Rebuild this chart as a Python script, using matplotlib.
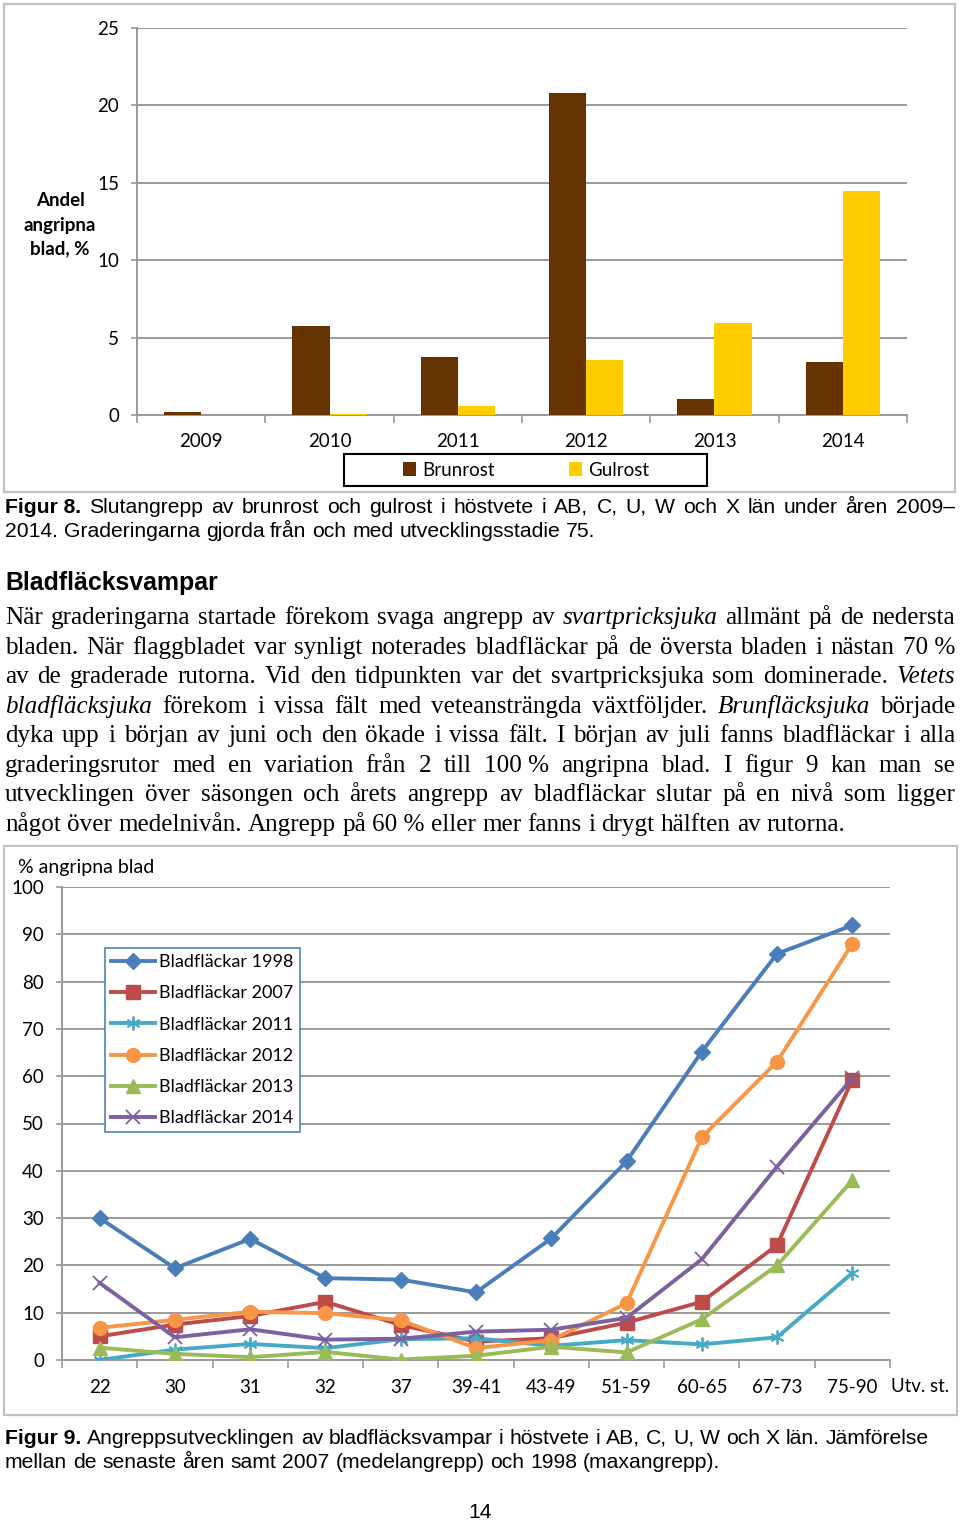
import matplotlib
matplotlib.use("Agg")
import matplotlib.pyplot as plt
from matplotlib.patches import Rectangle
import numpy as np

# ---------------- data ----------------
years = ['2009', '2010', '2011', '2012', '2013', '2014']
brunrost = [0.2, 5.75, 3.75, 20.8, 1.05, 3.45]
gulrost = [0.0, 0.05, 0.6, 3.55, 5.95, 14.45]

stages = ['22', '30', '31', '32', '37', '39-41', '43-49', '51-59', '60-65', '67-73', '75-90']
s1998 = [30.0, 19.4, 25.6, 17.3, 17.0, 14.3, 25.7, 42.0, 65.2, 85.9, 91.9]
s2007 = [5.0, 7.5, 9.3, 12.3, 7.4, 3.9, 4.6, 7.9, 12.3, 24.3, 59.3]
s2011 = [0.0, 2.2, 3.4, 2.5, 4.4, 4.6, 3.0, 4.2, 3.3, 4.8, 18.4]
s2012 = [6.8, 8.5, 10.2, 9.9, 8.4, 2.5, 4.2, 12.0, 47.1, 63.1, 88.0]
s2013 = [2.6, 1.3, 0.6, 1.7, 0.1, 0.9, 2.8, 1.6, 8.6, 20.0, 38.0]
s2014 = [16.3, 4.8, 6.5, 4.3, 4.5, 6.0, 6.4, 8.9, 21.3, 40.9, 59.6]
series_labels = ['Bladfläckar 1998', 'Bladfläckar 2007', 'Bladfläckar 2011',
                 'Bladfläckar 2012', 'Bladfläckar 2013', 'Bladfläckar 2014']

W, H = 960, 1521
fig = plt.figure(figsize=(W / 100, H / 100), dpi=100)
fig.patch.set_facecolor('white')

def fx(x):
    return x / W

def fy(y):
    return 1 - y / H

def ax_rect(l, t, r, b):
    return [fx(l), fy(b), (r - l) / W, (b - t) / H]

GRID = '#9a9a9a'
CHART_FONT = 'Lato'

# ---------------- outer boxes ----------------
for (l, t, r, b) in [(4, 4, 955, 492), (4, 846, 957, 1415)]:
    fig.add_artist(Rectangle((fx(l), fy(b)), (r - l) / W, (b - t) / H,
                             transform=fig.transFigure, fill=False,
                             edgecolor='#c0c0c0', lw=1.6))

# ---------------- top chart ----------------
ax1 = fig.add_axes(ax_rect(137, 28, 907, 415))
x = np.arange(len(years))
bw = 0.29
ax1.bar(x - bw / 2, brunrost, width=bw, color='#663300', label='Brunrost', zorder=3)
ax1.bar(x + bw / 2, gulrost, width=bw, color='#FFCC00', label='Gulrost', zorder=3)
ax1.set_xlim(-0.5, len(years) - 0.5)
ax1.set_ylim(0, 25)
ax1.set_yticks(range(0, 26, 5))
ax1.set_xticks(x)
ax1.set_xticklabels(years)
ax1.set_xticks(np.arange(-0.5, len(years), 1.0), minor=True)
ax1.grid(axis='y', color=GRID, lw=1.4, zorder=0)
for s in ['top', 'right']:
    ax1.spines[s].set_visible(False)
for s in ['left', 'bottom']:
    ax1.spines[s].set_color(GRID)
    ax1.spines[s].set_linewidth(1.4)
ax1.tick_params(axis='x', which='major', length=0, pad=13, labelsize=13.5)
ax1.tick_params(axis='x', which='minor', length=6, color=GRID, width=1.2)
ax1.tick_params(axis='y', length=4, color=GRID, width=1.2, pad=9, labelsize=13.5)
for lab in ax1.get_xticklabels() + ax1.get_yticklabels():
    lab.set_fontfamily(CHART_FONT)

fig.text(fx(60), fy(225), 'Andel\nangripna\nblad, %', ha='center', va='center',
         fontsize=13.5, fontweight='bold', family=CHART_FONT, linespacing=1.5)

# top legend with black frame
fig.add_artist(Rectangle((fx(344), fy(486)), (707 - 344) / W, (486 - 454) / H,
                         transform=fig.transFigure, fill=False, edgecolor='black', lw=1.5))
h1, l1 = ax1.get_legend_handles_labels()
leg1 = fig.legend(h1, l1, loc='center', bbox_to_anchor=(fx(526), fy(470)), ncol=2,
                  frameon=False, handlelength=0.7, handleheight=0.7, handletextpad=0.3,
                  columnspacing=4.0, prop={'family': CHART_FONT, 'size': 13.5})

# ---------------- bottom chart ----------------
ax2 = fig.add_axes(ax_rect(62, 887, 890, 1360))
xs = np.arange(len(stages))
styles = [
    (s1998, '#4A7EBB', dict(marker='D', markersize=8.5)),
    (s2007, '#BE4B48', dict(marker='s', markersize=9.5)),
    (s2011, '#46AAC5', dict(marker=(6, 2, 0), markersize=10, markeredgewidth=1.3)),
    (s2012, '#F79646', dict(marker='o', markersize=10)),
    (s2013, '#9BBB59', dict(marker='^', markersize=10)),
    (s2014, '#7D60A0', dict(marker='x', markersize=10, markeredgewidth=1.3)),
]
for (vals, col, mk), lab in zip(styles, series_labels):
    ax2.plot(xs, vals, color=col, lw=2.8, label=lab, markerfacecolor=col,
             markeredgecolor=col, zorder=3, **mk)
ax2.set_xlim(-0.5, len(stages) - 0.5)
ax2.set_ylim(0, 100)
ax2.set_yticks(range(0, 101, 10))
ax2.set_xticks(xs)
ax2.set_xticklabels(stages)
ax2.set_xticks(np.arange(-0.5, len(stages), 1.0), minor=True)
ax2.grid(axis='y', color=GRID, lw=1.4, zorder=0)
for s in ['top', 'right']:
    ax2.spines[s].set_visible(False)
for s in ['left', 'bottom']:
    ax2.spines[s].set_color(GRID)
    ax2.spines[s].set_linewidth(1.4)
ax2.tick_params(axis='x', which='major', length=0, pad=14, labelsize=13.5)
ax2.tick_params(axis='x', which='minor', length=6, color=GRID, width=1.2)
ax2.tick_params(axis='y', length=4, color=GRID, width=1.2, pad=9, labelsize=13.5)
for lab in ax2.get_xticklabels() + ax2.get_yticklabels():
    lab.set_fontfamily(CHART_FONT)

fig.text(fx(18), fy(868), '% angripna blad', ha='left', va='center',
         fontsize=14, family=CHART_FONT)
fig.text(fx(891), fy(1387), 'Utv. st.', ha='left', va='center',
         fontsize=13.5, family=CHART_FONT)

leg2 = ax2.legend(loc='upper left', bbox_to_anchor=(fx(105), fy(948)),
                  bbox_transform=fig.transFigure, frameon=True, fancybox=False,
                  handlelength=2.4, handletextpad=0.25, borderpad=0.35,
                  labelspacing=0.84, borderaxespad=0,
                  prop={'family': CHART_FONT, 'size': 13})
leg2.get_frame().set_edgecolor('#4F81BD')
leg2.get_frame().set_linewidth(1.2)
leg2.get_frame().set_alpha(1)

# ---------------- page text ----------------
renderer = fig.canvas.get_renderer()

def measure(s, **kw):
    t = fig.text(0, 0, s, **kw)
    w = t.get_window_extent(renderer).width
    t.remove()
    return w

def space_width(**kw):
    return measure('a a', **kw) - measure('aa', **kw)

def fit_size(s, target, base, **kw):
    w = measure(s, fontsize=base, **kw)
    return base * target / w

SERIF = 'Liberation Serif'
SANS = 'Liberation Sans'

def draw_line(tokens, x0, baseline, target=None, **common):
    """tokens: list of (word, extra_kwargs)."""
    widths = []
    for wd, kw in tokens:
        k = dict(common); k.update(kw)
        widths.append(measure(wd, **k))
    if target is not None and len(tokens) > 1:
        gap = (target - sum(widths)) / (len(tokens) - 1)
    else:
        gap = space_width(**common)
    xpos = x0
    for (wd, kw), w in zip(tokens, widths):
        k = dict(common); k.update(kw)
        fig.text(fx(xpos), fy(baseline), wd, ha='left', va='baseline', **k)
        xpos += w + gap

def toks(text, italic_words=(), bold_words=()):
    out = []
    for w in text.split(' '):
        w = w.replace('~', '\u00a0')
        kw = {}
        if w in italic_words:
            kw['style'] = 'italic'
        if w in bold_words:
            kw['weight'] = 'bold'
        out.append((w, kw))
    return out

# captions
cap8_1 = 'Figur~8. Slutangrepp av brunrost och gulrost i höstvete i AB, C, U, W och X län under åren 2009–'
cap8_2 = '2014. Graderingarna gjorda från och med utvecklingsstadie 75.'
cap9_1 = 'Figur~9. Angreppsutvecklingen av bladfläcksvampar i höstvete i AB, C, U, W och X län. Jämförelse'
cap9_2 = 'mellan de senaste åren samt 2007 (medelangrepp) och 1998 (maxangrepp).'
sz_a = fit_size(cap8_1.replace('~', ' '), 950, 14, family=SANS)
sz_b = fit_size(cap9_1.replace('~', ' '), 917, 14, family=SANS)
sz_c = fit_size(cap9_2, 695, 14, family=SANS)
cap_size = (sz_a + sz_b + sz_c) / 3

draw_line(toks(cap8_1, bold_words=('Figur\u00a08.',)), 5, 513, target=950,
          family=SANS, fontsize=cap_size)
draw_line(toks(cap8_2), 5, 537, family=SANS, fontsize=cap_size)

head_size = fit_size('Bladfläcksvampar', 213, 16, family=SANS, weight='bold')
fig.text(fx(5), fy(590), 'Bladfläcksvampar', ha='left', va='baseline',
         family=SANS, weight='bold', fontsize=head_size)

body = [
    'När graderingarna startade förekom svaga angrepp av svartpricksjuka allmänt på de nedersta',
    'bladen. När flaggbladet var synligt noterades bladfläckar på de översta bladen i nästan 70~%',
    'av de graderade rutorna. Vid den tidpunkten var det svartpricksjuka som dominerade. Vetets',
    'bladfläcksjuka förekom i vissa fält med veteansträngda växtföljder. Brunfläcksjuka började',
    'dyka upp i början av juni och den ökade i vissa fält. I början av juli fanns bladfläckar i alla',
    'graderingsrutor med en variation från 2 till 100~% angripna blad. I figur 9 kan man se',
    'utvecklingen över säsongen och årets angrepp av bladfläckar slutar på en nivå som ligger',
    'något över medelnivån. Angrepp på 60~% eller mer fanns i drygt hälften av rutorna.',
]
italic_per_line = {0: ('svartpricksjuka',), 2: ('Vetets',),
                   3: ('bladfläcksjuka', 'Brunfläcksjuka')}
body_size = fit_size(body[-1].replace('~', '\u00a0'), 841, 16, family=SERIF)
body_base = [624, 654, 683, 713, 742, 772, 801, 831]
for i, (line, yb) in enumerate(zip(body, body_base)):
    it = italic_per_line.get(i, ())
    tg = 950 if i < len(body) - 1 else None
    draw_line(toks(line, italic_words=it), 5, yb, target=tg,
              family=SERIF, fontsize=body_size)

draw_line(toks(cap9_1, bold_words=('Figur\u00a09.',)), 5, 1444, family=SANS, fontsize=cap_size)
draw_line(toks(cap9_2), 5, 1468, family=SANS, fontsize=cap_size)

fig.text(fx(480), fy(1518), '14', ha='center', va='baseline', family=SANS, fontsize=cap_size)

fig.savefig('out.png', dpi=100)
